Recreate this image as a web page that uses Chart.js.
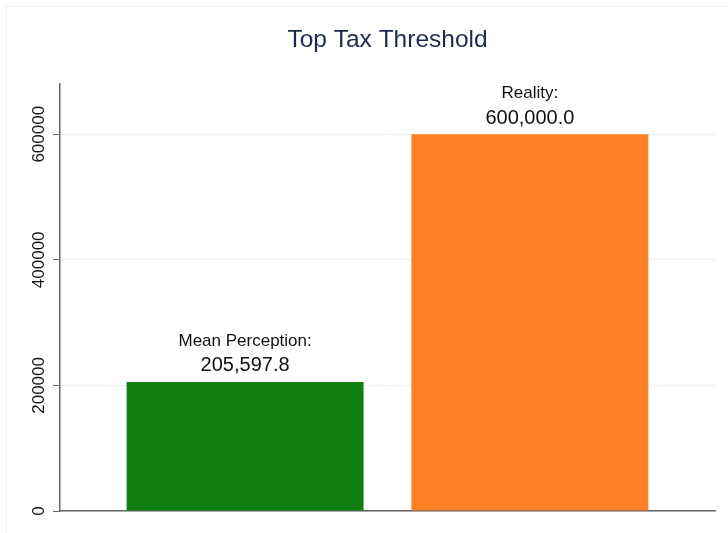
<!DOCTYPE html>
<html>
<head>
<meta charset="utf-8">
<script src="https://cdn.jsdelivr.net/npm/chart.js@4.4.1/dist/chart.umd.min.js"></script>
<style>
  html, body { margin: 0; padding: 0; background: #fff; overflow: hidden; }
  #wrap { position: relative; width: 728px; height: 533px; }
  #frame { position: absolute; left: 6px; top: 6px; width: 800px; height: 600px; border: 1px solid #edf3f5; }
  #chart { position: absolute; left: 0; top: 0; }
</style>
</head>
<body>
<div id="wrap">
  <div id="frame"></div>
  <canvas id="chart" width="728" height="533"></canvas>
</div>
<script>
/* Top Tax Threshold: perceived vs actual */

const categories = ["Mean Perception", "Reality"];
const barLabels = ["Mean Perception:", "Reality:"];
const values = [205597.8, 600000];
const barColors = ["#127f13", "#fc8126"];
const yTicks = [0, 200000, 400000, 600000];
const yMax = 680000;

const FONT = "'Liberation Sans', Arial, Helvetica, sans-serif";

function fmt(v) {
  return v.toLocaleString("en-US", { minimumFractionDigits: 1, maximumFractionDigits: 1 });
}

// two-line label above each bar
const barLabelPlugin = {
  id: "barLabels",
  afterDatasetsDraw(chart) {
    const ctx = chart.ctx;
    const meta = chart.getDatasetMeta(0);
    ctx.save();
    ctx.fillStyle = "#111";
    ctx.textAlign = "center";
    ctx.textBaseline = "middle";
    meta.data.forEach((bar, i) => {
      ctx.font = "17px " + FONT;
      ctx.fillText(barLabels[i], bar.x, bar.y - 41);
      ctx.font = "20px " + FONT;
      ctx.fillText(fmt(values[i]), bar.x, bar.y - 16);
    });
    ctx.restore();
  },
};

new Chart(document.getElementById("chart"), {
  type: "bar",
  data: {
    datasets: [
      {
        label: "Top Tax Threshold",
        data: values.map((v, i) => ({ x: i, y: v })),
        backgroundColor: barColors,
        borderWidth: 0,
        categoryPercentage: 1,
        barPercentage: 0.832,
      },
    ],
  },
  options: {
    responsive: false,
    animation: false,
    devicePixelRatio: 1,
    layout: { padding: { left: 0, right: 13, top: 0, bottom: 22 } },
    plugins: {
      legend: { display: false },
      tooltip: { enabled: false },
      title: {
        display: true,
        fullSize: false,
        text: "Top Tax Threshold",
        color: "#1c2a4d",
        font: { family: FONT, size: 24.5, weight: "normal" },
        padding: { top: 26, bottom: 28.6 },
      },
    },
    scales: {
      x: {
        type: "linear",
        min: -0.65,
        max: 1.65,
        offset: false,
        afterBuildTicks: (s) => { s.ticks = categories.map((c, i) => ({ value: i })); },
        afterFit: (s) => { s.height = 0; },
        ticks: { display: false },
        grid: { display: false },
        border: { display: true, color: "#666", width: 1.5 },
      },
      y: {
        min: 0,
        max: yMax,
        afterBuildTicks: (s) => { s.ticks = yTicks.map((v) => ({ value: v })); },
        afterFit: (s) => { s.width = 60; },
        ticks: {
          minRotation: 90,
          maxRotation: 90,
          crossAlign: "center",
          padding: -15,
          color: "#111",
          font: { family: FONT, size: 17 },
          callback: (v) => String(v),
        },
        grid: { color: "#e8f0f3", tickColor: "#666", tickLength: 7, lineWidth: 1 },
        border: { display: true, color: "#666", width: 1.5 },
      },
    },
  },
  plugins: [barLabelPlugin],
});
</script>
</body>
</html>
